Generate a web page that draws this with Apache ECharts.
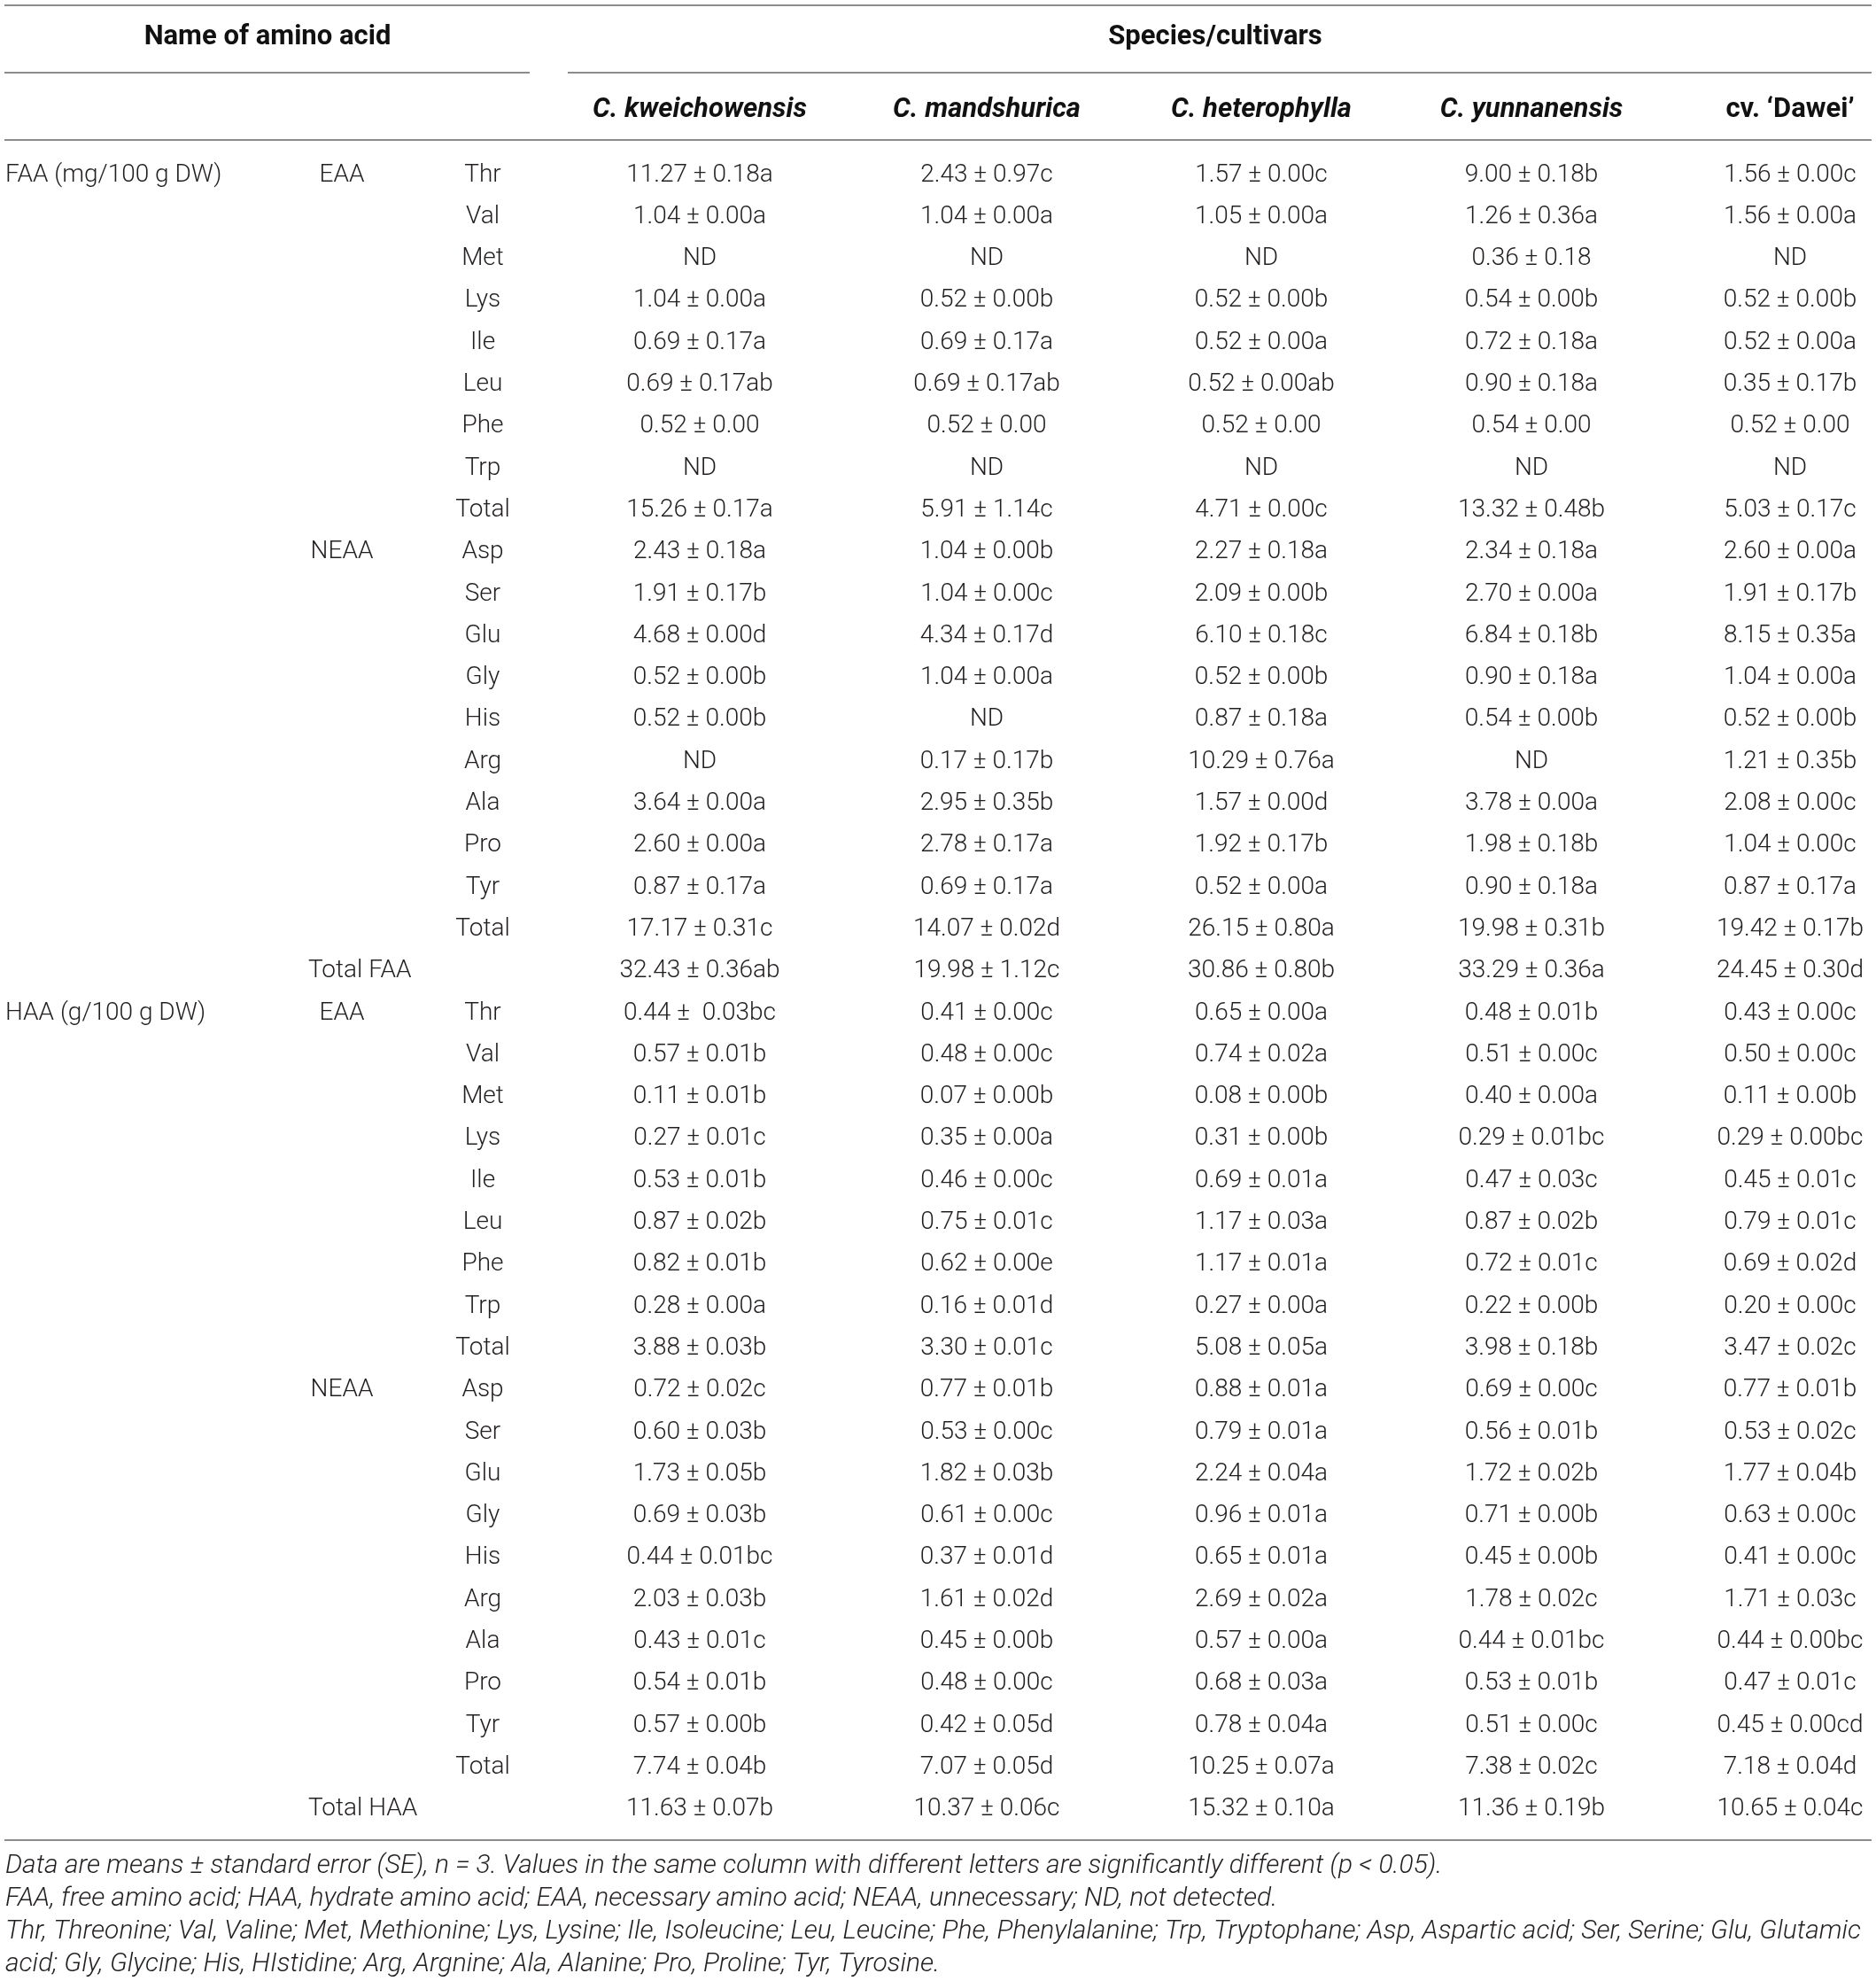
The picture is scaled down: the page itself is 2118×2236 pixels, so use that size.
<!DOCTYPE html>
<html>
<head>
<meta charset="utf-8">
<script src="https://cdn.jsdelivr.net/npm/echarts@6/dist/echarts.min.js"></script>
<style>
  html, body { margin: 0; padding: 0; background: #fff; }
  #main { width: 2118px; height: 2236px; }
</style>
</head>
<body>
<div id="main"></div>
<script>
const species = ['C. kweichowensis', 'C. mandshurica', 'C. heterophylla', 'C. yunnanensis', 'cv. \u2018Dawei\u2019'];
const eaaNames = ['Thr', 'Val', 'Met', 'Lys', 'Ile', 'Leu', 'Phe', 'Trp', 'Total'];
const neaaNames = ['Asp', 'Ser', 'Glu', 'Gly', 'His', 'Arg', 'Ala', 'Pro', 'Tyr', 'Total'];

// free amino acids, mg/100 g DW
const faaEaa = [
    ['11.27 ± 0.18a', '2.43 ± 0.97c', '1.57 ± 0.00c', '9.00 ± 0.18b', '1.56 ± 0.00c'],
    ['1.04 ± 0.00a', '1.04 ± 0.00a', '1.05 ± 0.00a', '1.26 ± 0.36a', '1.56 ± 0.00a'],
    ['ND', 'ND', 'ND', '0.36 ± 0.18', 'ND'],
    ['1.04 ± 0.00a', '0.52 ± 0.00b', '0.52 ± 0.00b', '0.54 ± 0.00b', '0.52 ± 0.00b'],
    ['0.69 ± 0.17a', '0.69 ± 0.17a', '0.52 ± 0.00a', '0.72 ± 0.18a', '0.52 ± 0.00a'],
    ['0.69 ± 0.17ab', '0.69 ± 0.17ab', '0.52 ± 0.00ab', '0.90 ± 0.18a', '0.35 ± 0.17b'],
    ['0.52 ± 0.00', '0.52 ± 0.00', '0.52 ± 0.00', '0.54 ± 0.00', '0.52 ± 0.00'],
    ['ND', 'ND', 'ND', 'ND', 'ND'],
    ['15.26 ± 0.17a', '5.91 ± 1.14c', '4.71 ± 0.00c', '13.32 ± 0.48b', '5.03 ± 0.17c']
];
const faaNeaa = [
    ['2.43 ± 0.18a', '1.04 ± 0.00b', '2.27 ± 0.18a', '2.34 ± 0.18a', '2.60 ± 0.00a'],
    ['1.91 ± 0.17b', '1.04 ± 0.00c', '2.09 ± 0.00b', '2.70 ± 0.00a', '1.91 ± 0.17b'],
    ['4.68 ± 0.00d', '4.34 ± 0.17d', '6.10 ± 0.18c', '6.84 ± 0.18b', '8.15 ± 0.35a'],
    ['0.52 ± 0.00b', '1.04 ± 0.00a', '0.52 ± 0.00b', '0.90 ± 0.18a', '1.04 ± 0.00a'],
    ['0.52 ± 0.00b', 'ND', '0.87 ± 0.18a', '0.54 ± 0.00b', '0.52 ± 0.00b'],
    ['ND', '0.17 ± 0.17b', '10.29 ± 0.76a', 'ND', '1.21 ± 0.35b'],
    ['3.64 ± 0.00a', '2.95 ± 0.35b', '1.57 ± 0.00d', '3.78 ± 0.00a', '2.08 ± 0.00c'],
    ['2.60 ± 0.00a', '2.78 ± 0.17a', '1.92 ± 0.17b', '1.98 ± 0.18b', '1.04 ± 0.00c'],
    ['0.87 ± 0.17a', '0.69 ± 0.17a', '0.52 ± 0.00a', '0.90 ± 0.18a', '0.87 ± 0.17a'],
    ['17.17 ± 0.31c', '14.07 ± 0.02d', '26.15 ± 0.80a', '19.98 ± 0.31b', '19.42 ± 0.17b']
];
const faaTotal = ['32.43 ± 0.36ab', '19.98 ± 1.12c', '30.86 ± 0.80b', '33.29 ± 0.36a', '24.45 ± 0.30d'];

// hydrate amino acids, g/100 g DW
const haaEaa = [
    ['0.44 ±  0.03bc', '0.41 ± 0.00c', '0.65 ± 0.00a', '0.48 ± 0.01b', '0.43 ± 0.00c'],
    ['0.57 ± 0.01b', '0.48 ± 0.00c', '0.74 ± 0.02a', '0.51 ± 0.00c', '0.50 ± 0.00c'],
    ['0.11 ± 0.01b', '0.07 ± 0.00b', '0.08 ± 0.00b', '0.40 ± 0.00a', '0.11 ± 0.00b'],
    ['0.27 ± 0.01c', '0.35 ± 0.00a', '0.31 ± 0.00b', '0.29 ± 0.01bc', '0.29 ± 0.00bc'],
    ['0.53 ± 0.01b', '0.46 ± 0.00c', '0.69 ± 0.01a', '0.47 ± 0.03c', '0.45 ± 0.01c'],
    ['0.87 ± 0.02b', '0.75 ± 0.01c', '1.17 ± 0.03a', '0.87 ± 0.02b', '0.79 ± 0.01c'],
    ['0.82 ± 0.01b', '0.62 ± 0.00e', '1.17 ± 0.01a', '0.72 ± 0.01c', '0.69 ± 0.02d'],
    ['0.28 ± 0.00a', '0.16 ± 0.01d', '0.27 ± 0.00a', '0.22 ± 0.00b', '0.20 ± 0.00c'],
    ['3.88 ± 0.03b', '3.30 ± 0.01c', '5.08 ± 0.05a', '3.98 ± 0.18b', '3.47 ± 0.02c']
];
const haaNeaa = [
    ['0.72 ± 0.02c', '0.77 ± 0.01b', '0.88 ± 0.01a', '0.69 ± 0.00c', '0.77 ± 0.01b'],
    ['0.60 ± 0.03b', '0.53 ± 0.00c', '0.79 ± 0.01a', '0.56 ± 0.01b', '0.53 ± 0.02c'],
    ['1.73 ± 0.05b', '1.82 ± 0.03b', '2.24 ± 0.04a', '1.72 ± 0.02b', '1.77 ± 0.04b'],
    ['0.69 ± 0.03b', '0.61 ± 0.00c', '0.96 ± 0.01a', '0.71 ± 0.00b', '0.63 ± 0.00c'],
    ['0.44 ± 0.01bc', '0.37 ± 0.01d', '0.65 ± 0.01a', '0.45 ± 0.00b', '0.41 ± 0.00c'],
    ['2.03 ± 0.03b', '1.61 ± 0.02d', '2.69 ± 0.02a', '1.78 ± 0.02c', '1.71 ± 0.03c'],
    ['0.43 ± 0.01c', '0.45 ± 0.00b', '0.57 ± 0.00a', '0.44 ± 0.01bc', '0.44 ± 0.00bc'],
    ['0.54 ± 0.01b', '0.48 ± 0.00c', '0.68 ± 0.03a', '0.53 ± 0.01b', '0.47 ± 0.01c'],
    ['0.57 ± 0.00b', '0.42 ± 0.05d', '0.78 ± 0.04a', '0.51 ± 0.00c', '0.45 ± 0.00cd'],
    ['7.74 ± 0.04b', '7.07 ± 0.05d', '10.25 ± 0.07a', '7.38 ± 0.02c', '7.18 ± 0.04d']
];
const haaTotal = ['11.63 ± 0.07b', '10.37 ± 0.06c', '15.32 ± 0.10a', '11.36 ± 0.19b', '10.65 ± 0.04c'];

const footnotes = [
    'Data are means ± standard error (SE), n = 3. Values in the same column with different letters are significantly different (p < 0.05).',
    'FAA, free amino acid; HAA, hydrate amino acid; EAA, necessary amino acid; NEAA, unnecessary; ND, not detected.',
    'Thr, Threonine; Val, Valine; Met, Methionine; Lys, Lysine; Ile, Isoleucine; Leu, Leucine; Phe, Phenylalanine; Trp, Tryptophane; Asp, Aspartic acid; Ser, Serine; Glu, Glutamic',
    'acid; Gly, Glycine; His, HIstidine; Arg, Argnine; Ala, Alanine; Pro, Proline; Tyr, Tyrosine.'
];

// ---- layout ----
const W = 2118, H = 2236;
const ROW0 = 197.5, ROW_H = 47.3;
// column anchors: group, EAA/NEAA, Total xAA, acid, then one per species
const COL_X = [6, 386, 348, 545, 790, 1114, 1424, 1729, 2021];
const COL_ALIGN = ['left', 'center', 'left', 'center', 'center', 'center', 'center', 'center', 'center'];
const FONT = "'Roboto', 'Liberation Sans', sans-serif";
const TEXT_COLOR = '#231f20';
const RULE_COLOR = '#8c8c8c';

// build table cells [col, row, text]
let cells = [];
let rowKeys = [];
function addSection(start, label, eaa, neaa, total, totalLabel) {
    cells.push([0, start, label]);
    cells.push([1, start, 'EAA']);
    eaaNames.forEach(function (n, i) {
        cells.push([3, start + i, n]);
        eaa[i].forEach(function (v, j) { cells.push([4 + j, start + i, v]); });
    });
    let s2 = start + eaaNames.length;
    cells.push([1, s2, 'NEAA']);
    neaaNames.forEach(function (n, i) {
        cells.push([3, s2 + i, n]);
        neaa[i].forEach(function (v, j) { cells.push([4 + j, s2 + i, v]); });
    });
    let s3 = s2 + neaaNames.length;
    cells.push([2, s3, totalLabel]);
    total.forEach(function (v, j) { cells.push([4 + j, s3, v]); });
    return s3 + 1;
}
let next = addSection(0, 'FAA (mg/100 g DW)', faaEaa, faaNeaa, faaTotal, 'Total FAA');
next = addSection(next, 'HAA (g/100 g DW)', haaEaa, haaNeaa, haaTotal, 'Total HAA');
for (let i = 0; i < next; i++) rowKeys.push('r' + i);

const gridTop = ROW0 - ROW_H / 2;
const gridBottom = H - (gridTop + next * ROW_H);

// rules, headers and footnotes
let graphics = [];
function rule(x1, x2, y) {
    graphics.push({
        type: 'line', silent: true,
        shape: { x1: x1, y1: y, x2: x2, y2: y },
        style: { stroke: RULE_COLOR, lineWidth: 2 }
    });
}
rule(5, 2113, 6);
rule(5, 598, 82);
rule(641, 2113, 82);
rule(5, 2113, 158);
rule(5, 2113, 2077);

function headText(text, x, y, italic) {
    graphics.push({
        type: 'text', silent: true, x: x, y: y,
        style: {
            text: text, fill: '#111',
            font: (italic ? 'italic ' : '') + 'bold 31px ' + FONT,
            textAlign: 'center', textVerticalAlign: 'middle'
        }
    });
}
headText('Name of amino acid', 302, 42, false);
headText('Species/cultivars', 1372, 42, false);
species.forEach(function (s, j) {
    headText(s, COL_X[4 + j], 124, s.indexOf('cv.') !== 0);
});
footnotes.forEach(function (t, i) {
    graphics.push({
        type: 'text', silent: true, x: 6, y: 2106 + i * 37.3,
        style: {
            text: t, fill: TEXT_COLOR,
            font: 'italic 300 30px ' + FONT,
            textAlign: 'left', textVerticalAlign: 'middle'
        }
    });
});

let myChart = echarts.init(document.getElementById('main'), null, { renderer: 'canvas' });

let option = {
    backgroundColor: '#fff',
    animation: false,
    grid: { left: 0, right: 0, top: gridTop, bottom: gridBottom },
    xAxis: { type: 'value', min: 0, max: W, show: false },
    yAxis: { type: 'category', data: rowKeys, inverse: true, show: false },
    graphic: graphics,
    series: [
        {
            type: 'custom',
            silent: true,
            data: cells.map(function (c) { return [c[0], c[1]]; }),
            encode: { x: 0, y: 1 },
            renderItem: function (params, api) {
                let c = cells[params.dataIndex];
                let p = api.coord([COL_X[c[0]], c[1]]);
                return {
                    type: 'text',
                    x: p[0], y: p[1],
                    style: {
                        text: c[2], fill: TEXT_COLOR,
                        font: '300 28px ' + FONT,
                        textAlign: COL_ALIGN[c[0]], textVerticalAlign: 'middle'
                    }
                };
            }
        }
    ]
};

myChart.setOption(option);
</script>
</body>
</html>
